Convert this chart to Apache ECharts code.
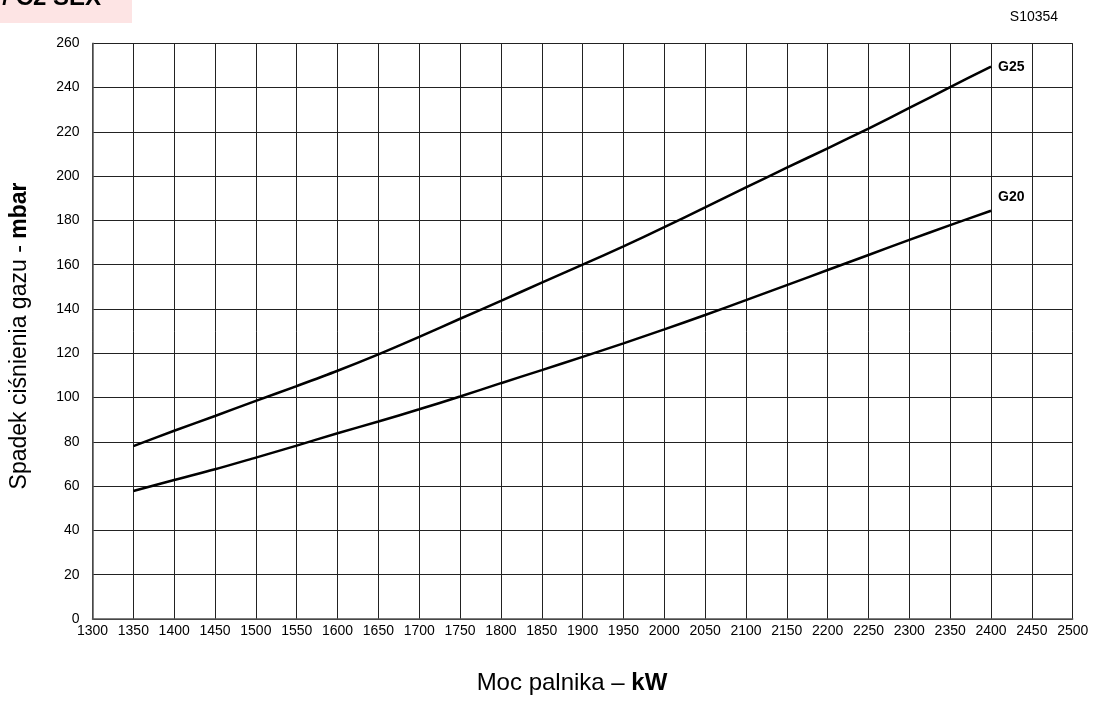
<!DOCTYPE html>
<html>
<head>
<meta charset="utf-8">
<script src="https://cdn.jsdelivr.net/npm/echarts@6/dist/echarts.min.js"></script>
<style>
html,body{margin:0;padding:0;background:#fff;}
#c{width:1094px;height:701px;}
</style>
</head>
<body>
<div id="c"></div>
<script>
const kw  = [1350,1400,1450,1500,1550,1600,1650,1700,1750,1800,1850,1900,1950,2000,2050,2100,2150,2200,2250,2300,2350,2400];
const g25 = [78.1,85.0,91.7,98.5,105.2,112.1,119.5,127.4,135.6,143.7,151.9,160.0,168.3,177.0,185.9,194.9,203.8,212.6,221.5,230.8,240.2,249.5];
const g20 = [57.8,62.8,67.6,72.9,78.3,83.9,89.2,94.7,100.5,106.5,112.4,118.4,124.5,130.8,137.3,144.0,150.8,157.6,164.4,171.2,177.9,184.4];
const seriesNames = ['G25','G20'];
const xTitle = 'Moc palnika – ';
const xTitleBold = 'kW';
const yTitle = 'Spadek ciśnienia gazu - ';
const yTitleBold = 'mbar';
const codeLabel = 'S10354';
const headerText = '/ C2 SEX';

const FONT = '"Liberation Sans", Arial, sans-serif';
const chart = echarts.init(document.getElementById('c'));
const mk = (name, vals, off) => ({
  name, type: 'line', smooth: 0.3, symbol: 'none',
  data: kw.map((x,i)=>[x, vals[i]]),
  lineStyle: {color:'#000', width:2.5},
  endLabel: {show:true, formatter:'{a}', fontFamily:FONT, fontWeight:'bold', fontSize:14, color:'#000', distance:7, offset:off},
  z: 5
});
chart.setOption({
  animation:false,
  backgroundColor:'#fff',
  grid:{left:92.5, right:21.3, top:43.3, bottom:82, containLabel:false},
  xAxis:{type:'value', min:1300, max:2500, interval:50,
    axisLine:{show:true, lineStyle:{color:'#555', width:1.5}},
    axisTick:{show:false},
    axisLabel:{fontFamily:FONT, fontSize:14, color:'#000', margin:5, formatter:v=>String(v)},
    splitLine:{show:true, lineStyle:{color:'#222', width:1}}
  },
  yAxis:{type:'value', min:0, max:260, interval:20,
    axisLine:{show:true, lineStyle:{color:'#555', width:1.5}},
    axisTick:{show:false},
    axisLabel:{fontFamily:FONT, fontSize:14, color:'#000', margin:13, formatter:v=>String(v)},
    splitLine:{show:true, lineStyle:{color:'#222', width:1}}
  },
  series:[mk(seriesNames[0], g25, [0,1]), mk(seriesNames[1], g20, [0,-14])],
  graphic:[
    {type:'rect', left:0, top:0, shape:{x:0,y:0,width:132,height:23}, style:{fill:'#fde4e4'}, z:0},
    {type:'text', x:101, y:10, style:{text:headerText, font:'bold 24px '+FONT, fill:'#000', textAlign:'right', textVerticalAlign:'bottom'}},
    {type:'text', x:1034, y:17, style:{text:codeLabel, font:'14px '+FONT, fill:'#000', textAlign:'center', textVerticalAlign:'middle'}},
    {type:'text', x:572, y:683, style:{
      text:'{a|'+xTitle+'}{b|'+xTitleBold+'}', textAlign:'center', textVerticalAlign:'middle',
      rich:{a:{font:'24px '+FONT, fill:'#000'}, b:{font:'bold 24px '+FONT, fill:'#000'}}}},
    {type:'text', x:20, y:336, rotation:Math.PI/2, style:{
      text:'{a|'+yTitle+'}{b|'+yTitleBold+'}', textAlign:'center', textVerticalAlign:'middle',
      rich:{a:{font:'23px '+FONT, fill:'#000'}, b:{font:'bold 23px '+FONT, fill:'#000'}}}}
  ]
});
</script>
</body>
</html>
